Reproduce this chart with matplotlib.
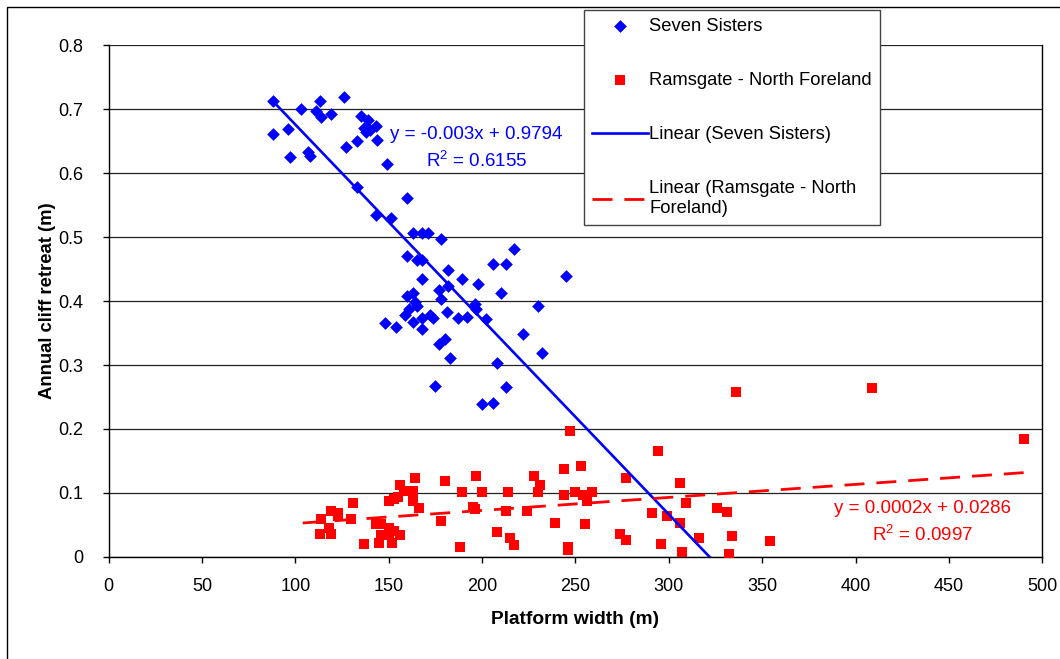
import matplotlib
matplotlib.use("Agg")
import matplotlib.pyplot as plt
import numpy as np
from matplotlib.patches import Rectangle

plt.rcParams['font.family'] = ['Liberation Sans', 'DejaVu Sans']
plt.rcParams['mathtext.fontset'] = 'custom'
plt.rcParams['mathtext.rm'] = 'Liberation Sans'
plt.rcParams['mathtext.it'] = 'Liberation Sans'

# ---- data ----
seven_x = [88, 88, 96, 97, 103, 107, 108, 111, 113, 114, 119, 126, 127, 133, 135, 139, 137, 138,
           140, 143, 144, 149, 133, 160, 143, 151, 163, 168, 171, 178, 217, 160, 165, 168, 206, 213,
           182, 245, 189, 168, 182, 198, 177, 210, 163, 160, 178, 164, 165, 196, 197, 230, 161, 181,
           159, 172, 168, 174, 187, 192, 202, 148, 154, 163, 168, 222, 180, 177, 232, 183, 208, 175,
           213, 200, 206]
seven_y = [.713, .662, .669, .625, .700, .634, .627, .698, .713, .688, .692, .720, .641, .651, .690,
           .684, .671, .665, .668, .674, .652, .614, .578, .562, .535, .530, .506, .507, .506, .497,
           .482, .470, .464, .464, .458, .458, .449, .440, .434, .435, .423, .426, .417, .412, .412,
           .408, .403, .399, .392, .396, .387, .392, .387, .383, .378, .378, .373, .373, .373, .375,
           .372, .366, .360, .367, .357, .348, .340, .333, .319, .311, .303, .267, .265, .239, .240]

rams_x = [114, 118, 113, 119, 119, 123, 123, 130, 131, 137, 145, 143, 146, 146, 150, 150, 150, 152,
          153, 156, 153, 155, 156, 158, 163, 164, 163, 166, 178, 180, 188, 189, 195, 196, 197, 200,
          208, 214, 213, 215, 217, 224, 228, 231, 230, 247, 244, 253, 244, 250, 254, 259, 256, 239,
          255, 246, 246, 277, 294, 274, 277, 291, 299, 296, 306, 309, 306, 307, 316, 326, 331, 334,
          332, 354, 336, 409, 490]
rams_y = [.059, .045, .036, .036, .072, .069, .063, .059, .084, .020, .022, .051, .051, .034, .087,
          .045, .034, .022, .040, .034, .090, .094, .112, .103, .103, .123, .087, .076, .056, .118,
          .015, .101, .078, .075, .126, .101, .039, .101, .072, .029, .019, .072, .126, .112, .101,
          .196, .137, .142, .096, .101, .096, .101, .087, .053, .051, .015, .010, .123, .166, .035,
          .026, .068, .063, .020, .116, .084, .053, .008, .029, .077, .070, .032, .005, .025, .258,
          .264, .184]

# trend line coefficients (slope, intercept, unrounded) and x spans
seven_fit = [-0.00305, 0.9813]
rams_fit = [0.000204, 0.0316]
seven_span = [88, 500]
rams_span = [104, 490]
seven_eq = ['y = -0.003x + 0.9794', 'R$^{2}$ = 0.6155']
rams_eq = ['y = 0.0002x + 0.0286', 'R$^{2}$ = 0.0997']

x_ticks = [0, 50, 100, 150, 200, 250, 300, 350, 400, 450, 500]
y_ticks = [0, 0.1, 0.2, 0.3, 0.4, 0.5, 0.6, 0.7, 0.8]
y_tick_labels = ['0', '0.1', '0.2', '0.3', '0.4', '0.5', '0.6', '0.7', '0.8']

fig = plt.figure(figsize=(10.6, 6.59), dpi=100)
ax = fig.add_axes([0.1024, 0.1552, 0.9833 - 0.1024, 0.931 - 0.1552])

# outer chart border
fig.patches.append(Rectangle((7 / 1060, -0.2), 1.2, 1 - 7 / 659 + 0.2, transform=fig.transFigure,
                             fill=False, edgecolor='black', linewidth=1.0, zorder=0))

ax.set_xlim(0, 500)
ax.set_ylim(0, 0.8)
ax.set_xticks(x_ticks)
ax.set_yticks(y_ticks)
ax.set_yticklabels(y_tick_labels)
ax.tick_params(direction='out', length=4, width=1, labelsize=13, color='black')
ax.tick_params(axis='x', pad=11)
ax.tick_params(axis='y', pad=14)
for s in ax.spines.values():
    s.set_color('black')
    s.set_linewidth(1)
ax.spines['top'].set_visible(False)
ax.yaxis.grid(True, color='#222222', linewidth=0.9)
ax.set_axisbelow(True)

ax.scatter(seven_x, seven_y, marker='D', s=42, color='#0000FF', linewidths=0, zorder=3,
           label='Seven Sisters')
ax.scatter(rams_x, rams_y, marker='s', s=50, color='#FF0000', linewidths=0, zorder=3,
           label='Ramsgate - North Foreland')

xs = np.array(seven_span, dtype=float)
ax.plot(xs, seven_fit[0] * xs + seven_fit[1], color='#0000FF', lw=1.9, zorder=4,
        label='Linear (Seven Sisters)')
xr = np.array(rams_span, dtype=float)
ax.plot(xr, rams_fit[0] * xr + rams_fit[1], color='#FF0000', lw=2.0, zorder=4,
        dashes=(7.2, 4.3), label='Linear (Ramsgate - North\nForeland)')

ax.set_xlabel('Platform width (m)', fontsize=13.8, fontweight='bold', labelpad=12)
ax.set_ylabel('Annual cliff retreat (m)', fontsize=13.3, fontweight='bold', labelpad=2)

ax.text(197, 0.661, seven_eq[0], color='#0000FF', fontsize=13.5, ha='center', va='center', zorder=5)
ax.text(197, 0.619, seven_eq[1], color='#0000FF', fontsize=13.5, ha='center', va='center', zorder=5)
ax.text(436, 0.076, rams_eq[0], color='#FF0000', fontsize=13.5, ha='center', va='center', zorder=5)
ax.text(436, 0.034, rams_eq[1], color='#FF0000', fontsize=13.5, ha='center', va='center', zorder=5)

leg = fig.legend(loc='upper left', bbox_to_anchor=(584 / 1060, 1 - 10 / 659),
                 fontsize=13.2, frameon=True, fancybox=False, edgecolor='#444444',
                 framealpha=1, labelspacing=2.03, handlelength=3.05, handletextpad=0.1,
                 borderpad=0.42, borderaxespad=0)
leg.get_frame().set_linewidth(1.0)

fig.savefig('out.png', dpi=100)
